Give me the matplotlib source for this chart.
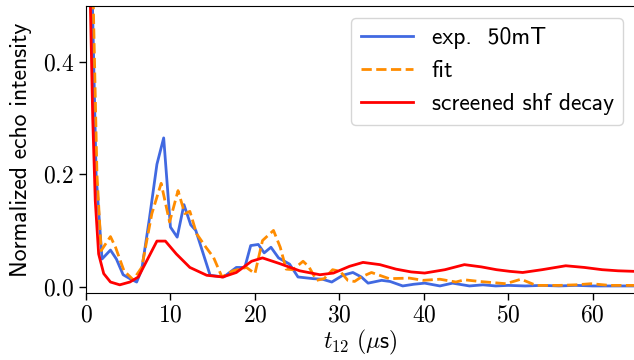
import numpy as np
import matplotlib
matplotlib.use("Agg")
import matplotlib.pyplot as plt
from matplotlib.ticker import FuncFormatter

plt.rcParams['mathtext.fontset'] = 'cm'
plt.rcParams['font.family'] = ['cmss10', 'DejaVu Sans']
plt.rcParams['axes.unicode_minus'] = False

# === DATA ===
t_exp = [0.7, 1.2, 1.9, 2.9, 3.6, 4.4, 5.2, 6.0, 6.6, 7.5, 8.4, 9.2, 10.0, 10.8, 11.6,
         12.4, 13.0, 14.7, 16.3, 17.8, 18.8, 19.5, 20.4, 21.1, 21.9, 22.8, 24.1, 25.1,
         26.9, 28.0, 29.1, 30.4, 31.6, 32.6, 33.4, 35.0, 36.0, 37.5, 38.8, 40.1, 41.9,
         43.4, 45.4, 47.0, 48.5, 50.0, 52.0, 54.0, 56.0, 58.0, 60.0, 62.0, 64.0, 65.0]
y_exp = [0.55, 0.20, 0.049, 0.065, 0.049, 0.021, 0.014, 0.008, 0.030, 0.120, 0.218, 0.265,
         0.106, 0.088, 0.146, 0.110, 0.100, 0.020, 0.017, 0.034, 0.034, 0.073, 0.075, 0.060,
         0.070, 0.051, 0.040, 0.017, 0.014, 0.013, 0.008, 0.020, 0.025, 0.017, 0.006, 0.011,
         0.009, 0.001, 0.004, 0.006, 0.001, 0.006, 0.001, 0.003, 0.001, 0.002, 0.001, 0.002,
         0.001, 0.002, 0.001, 0.001, 0.001, 0.001]

t_fit = [0.8, 1.3, 1.8, 2.9, 3.5, 4.5, 5.6, 6.6, 7.8, 8.9, 9.9, 10.9, 11.7, 12.3, 13.1,
         14.2, 15.1, 16.1, 17.4, 19.0, 20.0, 20.9, 22.2, 23.0, 23.7, 24.5, 25.7, 26.4,
         27.3, 28.2, 29.2, 30.1, 31.0, 31.8, 32.6, 33.8, 35.9, 38.3, 39.9, 41.9, 43.8,
         44.8, 46.6, 49.7, 51.5, 53.3, 56.0, 58.0, 59.8, 62.0, 65.0]
y_fit = [0.55, 0.20, 0.064, 0.089, 0.070, 0.028, 0.012, 0.034, 0.130, 0.184, 0.115, 0.171,
         0.130, 0.134, 0.094, 0.070, 0.052, 0.017, 0.028, 0.034, 0.023, 0.082, 0.100, 0.070,
         0.031, 0.030, 0.045, 0.035, 0.011, 0.014, 0.030, 0.027, 0.011, 0.009, 0.017, 0.025,
         0.014, 0.015, 0.011, 0.013, 0.008, 0.012, 0.009, 0.005, 0.013, 0.002, 0.002, 0.003,
         0.005, 0.002, 0.002]

t_shf = [0.5, 0.8, 1.1, 1.5, 2.1, 2.9, 4.0, 5.2, 6.2, 7.2, 8.4, 9.4, 10.7, 12.3, 14.3,
         16.2, 17.8, 19.6, 20.9, 22.9, 25.3, 27.7, 29.3, 31.2, 32.8, 34.8, 36.7, 38.5,
         40.1, 42.5, 44.8, 46.8, 48.6, 50.2, 51.7, 54.0, 56.8, 59.0, 61.1, 63.0, 65.0]
y_shf = [0.52, 0.30, 0.153, 0.058, 0.023, 0.008, 0.003, 0.008, 0.017, 0.046, 0.081, 0.081,
         0.058, 0.034, 0.020, 0.017, 0.025, 0.045, 0.051, 0.041, 0.028, 0.021, 0.024, 0.036,
         0.043, 0.039, 0.031, 0.026, 0.024, 0.030, 0.039, 0.035, 0.030, 0.027, 0.025, 0.030,
         0.037, 0.034, 0.030, 0.028, 0.027]

# === PLOT ===
fig = plt.figure(figsize=(6.34, 3.6), dpi=100)
ax = fig.add_axes([0.1356, 0.187, 0.866, 0.796])

ax.plot(t_exp, y_exp, color='royalblue', lw=2, label='exp.  50mT')
ax.plot(t_fit, y_fit, color='darkorange', lw=2, ls='--', label='fit')
ax.plot(t_shf, y_shf, color='red', lw=2, label='screened shf decay')

ax.set_xlim(0, 65)
ax.set_ylim(-0.011, 0.5)
ax.set_xticks([0, 10, 20, 30, 40, 50, 60])
ax.set_yticks([0.0, 0.2, 0.4])
ax.xaxis.set_major_formatter(FuncFormatter(lambda v, p: f"${v:.0f}$"))
ax.yaxis.set_major_formatter(FuncFormatter(lambda v, p: f"${v:.1f}$"))
ax.tick_params(labelsize=17, length=5, width=1)

ax.set_xlabel(r"$t_{12}\ (\mu\mathsf{s})$", fontsize=17, labelpad=1)
ax.set_ylabel("Normalized echo intensity", fontsize=17, labelpad=8)
ax.legend(loc='upper right', fontsize=17, labelspacing=0.46, handlelength=2.2,
          borderaxespad=0.5)

fig.savefig("out.png", dpi=100)
